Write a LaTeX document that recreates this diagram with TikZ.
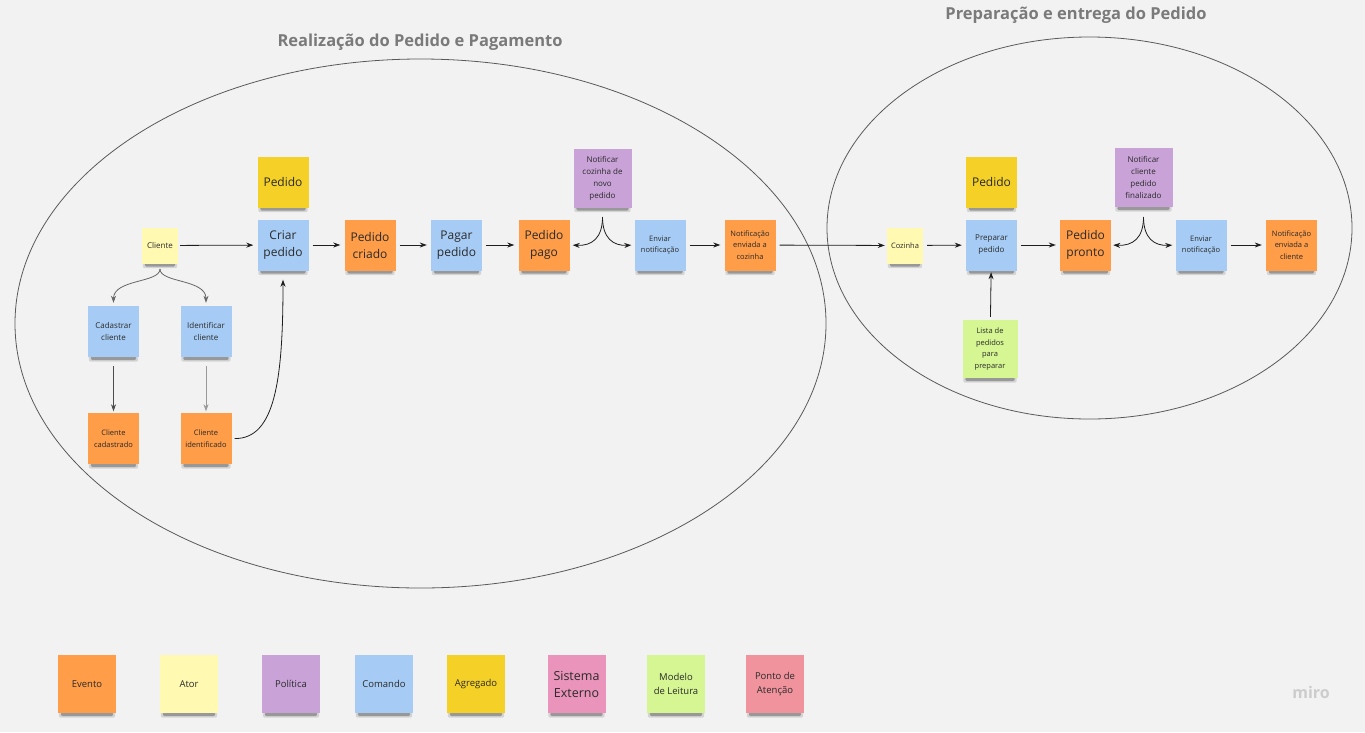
\documentclass[tikz,border=0pt]{standalone}
\usepackage{fontspec}
\setmainfont{Open Sans}
\usetikzlibrary{arrows.meta}
\pgfdeclarelayer{bglayer}
\pgfdeclarelayer{shadowlayer}
\pgfsetlayers{bglayer,shadowlayer,main}
\definecolor{bg}{HTML}{F2F2F2}
\definecolor{evt}{HTML}{FF9D48}
\definecolor{act}{HTML}{FFF9B1}
\definecolor{pol}{HTML}{C9A2D8}
\definecolor{cmd}{HTML}{A6CCF5}
\definecolor{agg}{HTML}{F5D128}
\definecolor{ext}{HTML}{EA94BB}
\definecolor{rdm}{HTML}{D5F692}
\definecolor{hot}{HTML}{F0939D}
\definecolor{txt}{HTML}{2A2A2A}
\definecolor{ttl}{HTML}{7A7A7A}
\definecolor{ln}{HTML}{1E1E1E}
\newcommand\szBig{\fontsize{12}{17}\selectfont}
\newcommand\szSm{\fontsize{8}{12}\selectfont}
\newcommand\szXs{\fontsize{7.5}{11.5}\selectfont}
\newcommand\szLeg{\fontsize{9.5}{14}\selectfont}
\begin{document}
\begin{tikzpicture}[x=1pt,y=-1pt,
  note/.style={inner sep=0pt, align=center, text=txt, minimum width=51pt, minimum height=51pt},
  small/.style={minimum width=36pt, minimum height=36pt},
  pnote/.style={minimum width=58pt, minimum height=59pt},
  leg/.style={minimum width=58pt, minimum height=58pt},
  arr/.style={draw=ln, line width=0.8pt, -{Stealth[length=7pt,width=5pt]}, shorten <=4pt, shorten >=4pt},
  ell/.style={draw=black!65, line width=0.8pt},
  title/.style={text=ttl, font=\bfseries\fontsize{16.5}{20}\selectfont}
]
\begin{pgfonlayer}{bglayer}
\fill[bg] (0,0) rectangle (1365,732);
\end{pgfonlayer}
\useasboundingbox (0,0) rectangle (1365,732);

% ellipses and titles
\draw[ell] (420.5,323.5) ellipse [x radius=405.5pt, y radius=264.5pt];
\draw[ell] (1089.5,228) ellipse [x radius=262.5pt, y radius=191pt];
\node[title] (t1) at (420,42) {Realização do Pedido e Pagamento};
\node[title] (t2) at (1076,15) {Preparação e entrega do Pedido};

% left flow
\node[note, fill=agg, font=\szBig] (aggL) at (283,182) {Pedido};
\node[note, fill=cmd, font=\szBig] (criar) at (283,245) {Criar\\pedido};
\node[note, small, fill=act, font=\szSm] (cliente) at (160,245.5) {Cliente};
\node[note, fill=cmd, font=\szSm] (cad) at (113.5,331.5) {Cadastrar\\cliente};
\node[note, fill=cmd, font=\szSm] (ident) at (206,331.5) {Identificar\\cliente};
\node[note, fill=evt, font=\szXs] (ccad) at (113.5,438.5) {Cliente\\cadastrado};
\node[note, fill=evt, font=\szXs] (cident) at (206,438.5) {Cliente\\identificado};
\node[note, fill=evt, font=\szBig] (pcriado) at (370,245) {Pedido\\criado};
\node[note, fill=cmd, font=\szBig] (pagar) at (456.5,245) {Pagar\\pedido};
\node[note, fill=evt, font=\szBig] (ppago) at (544,245) {Pedido\\pago};
\node[note, pnote, fill=pol, font=\szSm] (notcoz) at (602.5,178) {Notificar\\cozinha de\\novo\\pedido};
\node[note, fill=cmd, font=\szXs] (env1) at (660,245) {Enviar\\notificação};
\node[note, fill=evt, font=\szXs] (nenv1) at (750,245) {Notificação\\enviada a\\cozinha};

% right flow
\node[note, small, fill=act, font=\szXs] (coz) at (905,245.5) {Cozinha};
\node[note, fill=agg, font=\szBig] (aggR) at (991.5,182) {Pedido};
\node[note, fill=cmd, font=\szSm] (prep) at (991.5,245) {Preparar\\pedido};
\node[note, fill=evt, font=\szBig] (pronto) at (1085.5,245) {Pedido\\pronto};
\node[note, pnote, fill=pol, font=\szSm] (notcli) at (1143.5,177.5) {Notificar\\cliente\\pedido\\finalizado};
\node[note, fill=cmd, font=\szXs] (env2) at (1201,245) {Enviar\\notificação};
\node[note, fill=evt, font=\szXs] (nenv2) at (1291.5,245) {Notificação\\enviada a\\cliente};
\node[note, minimum width=55pt, minimum height=58pt, fill=rdm, font=\szXs] (lista) at (990,349) {Lista de\\pedidos\\para\\preparar};

% legend
\node[note, leg, fill=evt, font=\szLeg] (lg1) at (87,684) {Evento};
\node[note, leg, fill=act, font=\szLeg] (lg2) at (189,684) {Ator};
\node[note, leg, fill=pol, font=\szLeg] (lg3) at (291,684) {Política};
\node[note, leg, fill=cmd, font=\szLeg] (lg4) at (384,684) {Comando};
\node[note, leg, fill=agg, font=\szLeg] (lg5) at (476,684) {Agregado};
\node[note, leg, fill=ext, font=\fontsize{12.5}{17}\selectfont] (lg6) at (576.5,684) {Sistema\\Externo};
\node[note, leg, fill=rdm, font=\szLeg] (lg7) at (676,684) {Modelo\\de Leitura};
\node[note, leg, fill=hot, font=\szLeg] (lg8) at (775,684) {Ponto de\\Atenção};

\node[text=black!20, font=\bfseries\fontsize{16}{18}\selectfont] (miro) at (1311,692) {miro};

% shadows of the sticky notes
\begin{pgfonlayer}{shadowlayer}
\foreach \n in {aggL,criar,cliente,cad,ident,ccad,cident,pcriado,pagar,ppago,notcoz,env1,nenv1,
  coz,aggR,prep,pronto,notcli,env2,nenv2,lista,lg1,lg2,lg3,lg4,lg5,lg6,lg7,lg8}{
  \fill[black, opacity=0.12, rounded corners=2pt] ([xshift=1pt,yshift=2pt]\n.south west) rectangle ([xshift=-1pt,yshift=-4.5pt]\n.south east);
  \fill[black, opacity=0.28, rounded corners=1.5pt] ([xshift=3pt,yshift=1pt]\n.south west) rectangle ([xshift=-3pt,yshift=-3pt]\n.south east);
}
\end{pgfonlayer}

% connectors left
\draw[arr, shorten <=2pt] (cliente) -- (criar);
\coordinate (s1) at (160,269);
\draw[arr, draw=black!60, shorten <=0pt, shorten >=3pt] (s1) .. controls (160,283) and (113.5,279) .. (cad.north);
\draw[arr, draw=black!60, shorten <=0pt, shorten >=3pt] (s1) .. controls (160,283) and (206,279) .. (ident.north);
\draw[arr, draw=black!70, shorten <=9pt, shorten >=1.5pt] (cad) -- (ccad);
\draw[arr, draw=black!40, shorten <=9pt, shorten >=1.5pt] (ident) -- (cident);
\draw[arr, shorten <=3pt, shorten >=9pt] (cident.east) .. controls (275,439) and (283,380) .. (criar.south);
\draw[arr] (criar) -- (pcriado);
\draw[arr] (pcriado) -- (pagar);
\draw[arr] (pagar) -- (ppago);
\coordinate (v1) at (602.5,217);
\draw[arr, shorten <=0pt, shorten >=3pt] (v1) .. controls (602.5,238) and (592,246) .. (ppago.east);
\draw[arr, shorten <=0pt, shorten >=3pt] (v1) .. controls (602.5,238) and (613,246) .. (env1.west);
\draw[arr] (env1) -- (nenv1);
\draw[arr, shorten >=2pt] (nenv1) -- (coz);

% connectors right
\draw[arr] (coz) -- (prep);
\draw[arr] (prep) -- (pronto);
\coordinate (v2) at (1143.5,217);
\draw[arr, shorten <=0pt, shorten >=2pt] (v2) .. controls (1143.5,238) and (1133,246) .. (pronto.east);
\draw[arr, shorten <=0pt, shorten >=3pt] (v2) .. controls (1143.5,238) and (1154,246) .. (env2.west);
\draw[arr] (env2) -- (nenv2);
\draw[arr, shorten <=3pt, shorten >=1.5pt] (lista) -- (prep);
\end{tikzpicture}
\end{document}
